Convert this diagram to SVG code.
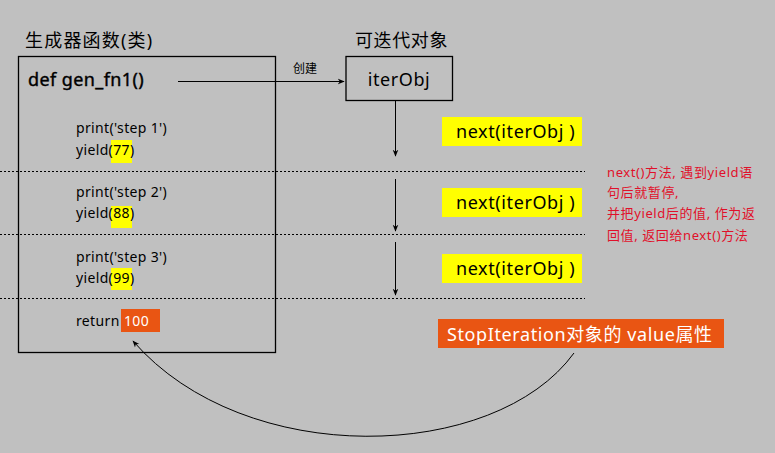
<svg xmlns="http://www.w3.org/2000/svg" width="775" height="453" viewBox="0 0 775 453">
<defs>
<style>
text{font-family:"Noto Sans","Noto Sans CJK SC",sans-serif;fill:#000}
.t18{font-size:18px}
.nx{font-size:18px;letter-spacing:0.6px}
.code{font-size:14px;letter-spacing:0.35px}
.box{fill:none;stroke:#000;stroke-width:1.3}
.conn{fill:none;stroke:#000;stroke-width:1}
.dot{stroke:#000;stroke-width:1;stroke-dasharray:2,2}
.yel{fill:#ffff00}
.org{fill:#e95513}
.red{font-size:13px;fill:#e0102a;letter-spacing:0.6px}
</style>
<marker id="ah" viewBox="0 0 10 10" refX="9" refY="5" markerWidth="7" markerHeight="7" orient="auto-start-reverse" markerUnits="userSpaceOnUse">
<path d="M0,1 L10,5 L0,9 L3,5 Z" fill="#000"/>
</marker>
</defs>
<rect width="775" height="453" fill="#c0c0c0"/>
<g id="dotted-lines">
<line class="dot" x1="0" y1="171.5" x2="585" y2="171.5"/>
<line class="dot" x1="0" y1="234.5" x2="585" y2="234.5"/>
<line class="dot" x1="0" y1="298.5" x2="585" y2="298.5"/>
</g>
<g id="generator">
<text class="t18" x="25" y="47" style="letter-spacing:1.2px">生成器函数(类)</text>
<rect class="box" x="18.5" y="56.5" width="257" height="296"/>
<text class="t18" x="28" y="86" style="letter-spacing:0.4px;stroke:#000;stroke-width:0.4">def gen_fn1()</text>
<rect class="yel" x="111" y="140" width="21" height="23"/>
<rect class="yel" x="111" y="206" width="21" height="22"/>
<rect class="yel" x="111" y="268" width="21" height="22"/>
<rect class="org" x="121" y="309" width="39" height="23"/>
<text class="code" x="76" y="133">print('step 1')</text>
<text class="code" x="76" y="155">yield(77)</text>
<text class="code" x="76" y="197">print('step 2')</text>
<text class="code" x="76" y="218">yield(88)</text>
<text class="code" x="76" y="262">print('step 3')</text>
<text class="code" x="76" y="283">yield(99)</text>
<text class="code" x="76" y="326">return</text>
<text class="code" x="124" y="326" style="fill:#fff">100</text>
</g>
<g id="iterobj">
<text class="t18" x="355" y="47" style="letter-spacing:0.6px">可迭代对象</text>
<rect class="box" x="346" y="56.5" width="106.5" height="44"/>
<text class="nx" x="399" y="86" text-anchor="middle">iterObj</text>
</g>
<g id="next1"><rect class="yel" x="442" y="117" width="140" height="29"/><text class="nx" x="456" y="138">next(iterObj )</text></g>
<g id="next2"><rect class="yel" x="442" y="188" width="140" height="29"/><text class="nx" x="456" y="209">next(iterObj )</text></g>
<g id="next3"><rect class="yel" x="442" y="254" width="140" height="29"/><text class="nx" x="456" y="275">next(iterObj )</text></g>
<g id="note">
<text class="red" x="607" y="177">next()方法, 遇到yield语</text>
<text class="red" x="607" y="197">句后就暂停,</text>
<text class="red" x="607" y="218">并把yield后的值, 作为返</text>
<text class="red" x="607" y="240">回值, 返回给next()方法</text>
</g>
<g id="stopiter">
<rect class="org" x="438" y="319" width="286" height="29"/>
<text class="nx" x="447" y="341" style="fill:#fff">StopIteration对象的 value属性</text>
</g>
<g id="connectors">
<text x="293" y="73" font-size="12">创建</text>
<line class="conn" x1="178" y1="81.5" x2="344" y2="81.5" marker-end="url(#ah)"/>
<line class="conn" x1="395.5" y1="101" x2="395.5" y2="156" marker-end="url(#ah)"/>
<line class="conn" x1="395.5" y1="179" x2="395.5" y2="231" marker-end="url(#ah)"/>
<line class="conn" x1="395.5" y1="242" x2="395.5" y2="295" marker-end="url(#ah)"/>
<path class="conn" d="M574,353 C495,462 245,470 133,341" marker-end="url(#ah)"/>
</g>
</svg>
